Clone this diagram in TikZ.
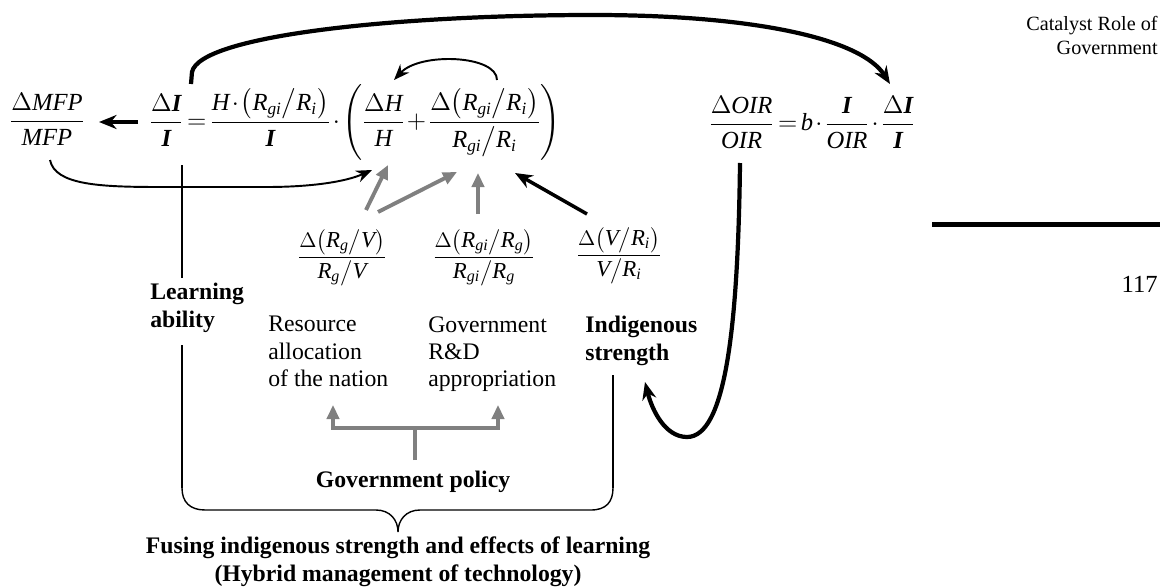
\documentclass[tikz,border=0pt]{standalone}
\usepackage{amsmath}
\usepackage{fontspec}
\setmainfont{Liberation Serif}
\usetikzlibrary{arrows.meta}

\newcommand{\bI}{\text{\bfseries\itshape I}}
\newcommand{\mv}[1]{\mathit{#1}}
\newcommand{\rat}[2]{\mv{#1}\big/\mv{#2}}
\newcommand{\tightmath}{\thickmuskip=2.5mu\medmuskip=1.5mu}

\tikzset{
  txt/.style={font=\fontsize{13.5}{15.5}\selectfont, inner sep=0pt, align=left},
  btxt/.style={txt, font=\fontsize{13.5}{15.5}\selectfont\bfseries},
  eq/.style={font=\fontsize{13}{15}\selectfont, inner sep=0pt},
  bigeq/.style={font=\fontsize{14}{16}\selectfont, inner sep=0pt},
  heavy/.style={line width=2.4pt, -{Stealth[length=10pt,width=8pt]}},
  light/.style={line width=1.1pt, -{Stealth[length=9pt,width=7pt]}},
  grayarr/.style={draw=gray, line width=2.2pt, -{Triangle[length=8pt,width=7pt]}},
  plain/.style={line width=0.8pt},
}

\begin{document}
\begin{tikzpicture}[x=0.02cm,y=-0.02cm]
    \useasboundingbox (0,0) rectangle (1166,588);

    % equations:
    \node[bigeq, anchor=base] (mfp) at (47,128) {$\tightmath\displaystyle\frac{\Delta\mv{MFP}}{\mv{MFP}}$};
    \node[bigeq, anchor=base] (maineq) at (355,129) {$\tightmath\displaystyle \frac{\Delta\bI}{\bI}=\frac{\mv{H}\cdot\bigl(\rat{R_{gi}}{R_i}\bigr)}{\bI}\cdot\left(\frac{\Delta\mv{H}}{\mv{H}}+\frac{\Delta\bigl(\rat{R_{gi}}{R_i}\bigr)}{\rat{R_{gi}}{R_i}}\right)$};
    \node[bigeq, anchor=base] (oireq) at (812,131) {$\tightmath\displaystyle\frac{\Delta\mv{OIR}}{\mv{OIR}}=\mv{b}\cdot\frac{\bI}{\mv{OIR}}\cdot\frac{\Delta\bI}{\bI}$};

    % ratios:
    \node[eq, anchor=base] (rgv) at (342,263) {$\displaystyle\frac{\Delta\bigl(\rat{R_g}{V}\bigr)}{\rat{R_g}{V}}$};
    \node[eq, anchor=base] (rgirg) at (484,263) {$\displaystyle\frac{\Delta\bigl(\rat{R_{gi}}{R_g}\bigr)}{\rat{R_{gi}}{R_g}}$};
    \node[eq, anchor=base] (vri) at (619,261) {$\displaystyle\frac{\Delta\bigl(\rat{V}{R_i}\bigr)}{\rat{V}{R_i}}$};

    % labels:
    \node[btxt, anchor=north west] (learn) at (150,283) {Learning\\ability};
    \node[txt, anchor=north west] (resalloc) at (268,316) {Resource\\allocation\\of the nation};
    \node[txt, anchor=north west] (gvrd) at (428,316) {Government\\R\&D\\appropriation};
    \node[btxt, anchor=north west] (indig) at (585,316) {Indigenous\\strength};
    \node[btxt, anchor=base] (policy) at (413,487) {Government policy};
    \node[btxt, anchor=base, align=center] (fusing) at (398,581) {Fusing indigenous strength and effects of learning\\(Hybrid management of technology)};
    \node[txt, anchor=base east, align=right, font=\fontsize{11.5}{14}\selectfont] (catalyst) at (1158,55) {Catalyst Role of\\Government};
    \node[txt, anchor=base east, font=\fontsize{14}{16}\selectfont] (pagenum) at (1158,292) {117};

    % points:
    \coordinate (topstart) at (191,84);
    \coordinate (topend) at (890,84);
    \coordinate (loopstart) at (497,80);
    \coordinate (loopend) at (394,80);
    \coordinate (mfpstart) at (50,160);
    \coordinate (mfpend) at (372,170);
    \coordinate (arrstart) at (138,122);
    \coordinate (arrend) at (99,122);
    \coordinate (oirstart) at (740,163);
    \coordinate (oirend) at (645,382);
    \coordinate (leftup) at (182,165);
    \coordinate (leftmid) at (182,278);
    \coordinate (leftlow) at (182,345);
    \coordinate (leftbrace) at (182,488);
    \coordinate (rightup) at (613,375);
    \coordinate (rightbrace) at (613,488);
    \coordinate (bracetip) at (398,532);
    \coordinate (tjoin) at (415,428);
    \coordinate (tbase) at (415,460);
    \coordinate (tleft) at (333,405);
    \coordinate (tright) at (498,405);

    % curved arrows:
    \draw[heavy] (topstart) -- (192,72) .. controls (200,35) and (400,15) .. (593,15) .. controls (760,15) and (862,40) .. (topend);
    \draw[light] (loopstart) .. controls (497,55) and (420,52) .. (loopend);
    \draw[light] (mfpstart) .. controls (55,185) and (100,187) .. (160,187) -- (267,187) .. controls (310,187) and (345,182) .. (mfpend);
    \draw[heavy] (oirstart) .. controls (738,330) and (725,437) .. (687,437) .. controls (665,437) and (652,410) .. (oirend);

    % straight arrows:
    \draw[heavy, line width=1.8pt] (arrstart) -- (arrend);
    \draw[grayarr] (366,210) -- (388,165);
    \draw[grayarr] (378,212) -- (457,172);
    \draw[grayarr] (478,214) -- (478,173);
    \draw[heavy, line width=2pt] (587,214) -- (515,173);

    % policy:
    \draw[grayarr] (tbase) -- (tjoin) -| (tleft);
    \draw[grayarr] (tjoin) -| (tright);

    % lines:
    \draw[plain] (leftup) -- (leftmid);
    \draw[plain] (leftlow) -- (leftbrace);
    \draw[plain] (rightup) -- (rightbrace);

    % brace:
    \draw[plain] (leftbrace) .. controls (182,502) and (190,510) .. (205,510) -- (376,510)
        .. controls (390,510) and (398,520) .. (bracetip)
        .. controls (398,520) and (406,510) .. (420,510) -- (591,510)
        .. controls (606,510) and (613,502) .. (rightbrace);

    % page rule:
    \fill (932,222) rectangle (1160,227);
\end{tikzpicture}
\end{document}
